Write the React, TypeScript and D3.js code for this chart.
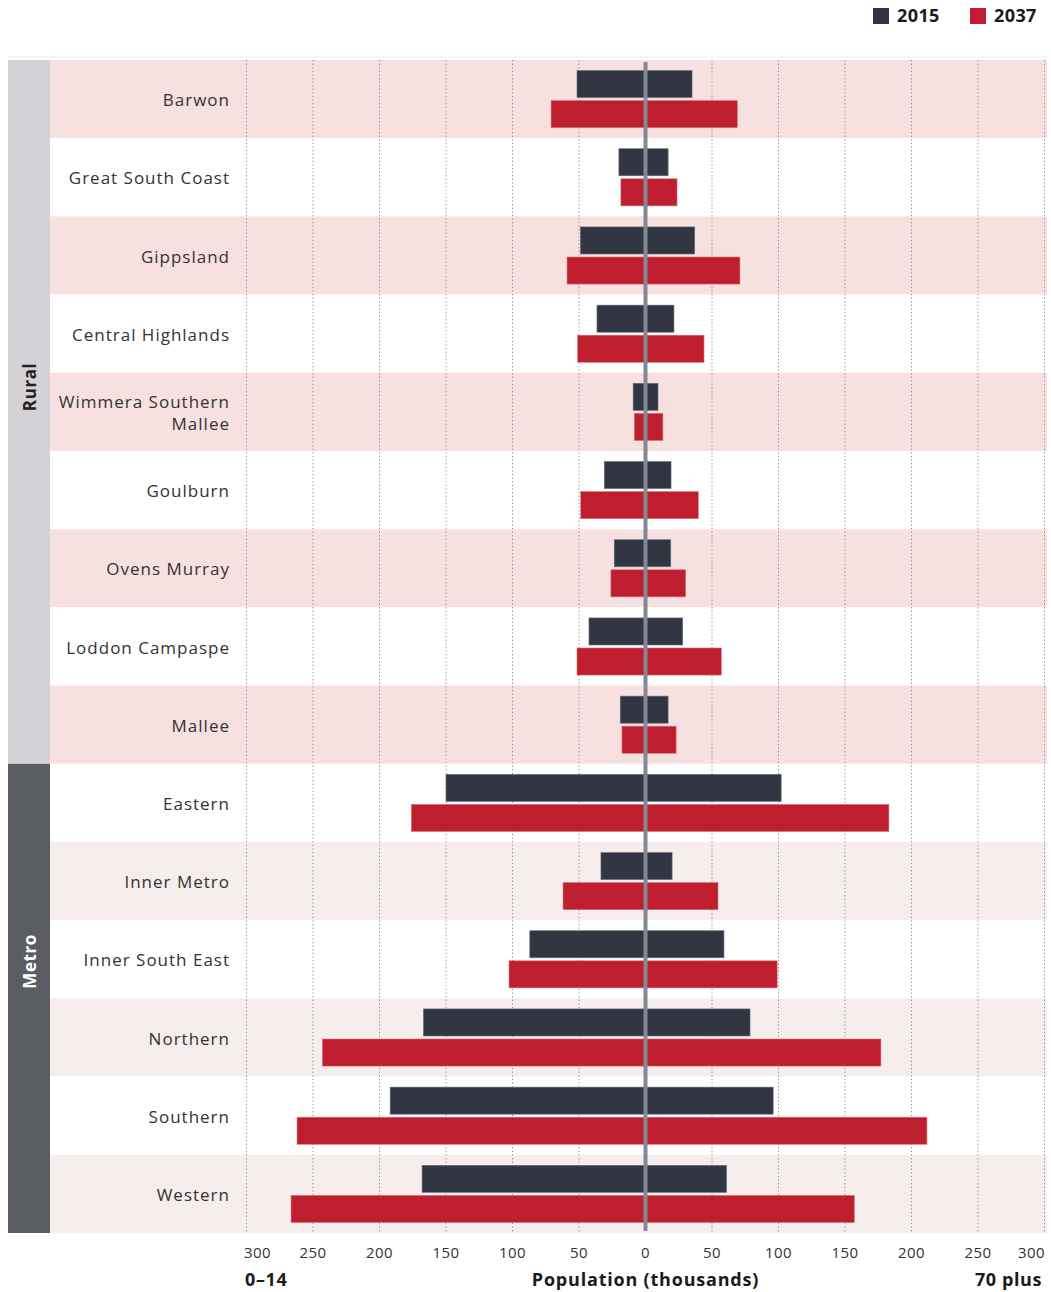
import * as d3 from "d3";

const regions = [
  "Barwon",
  "Great South Coast",
  "Gippsland",
  "Central Highlands",
  "Wimmera Southern Mallee",
  "Goulburn",
  "Ovens Murray",
  "Loddon Campaspe",
  "Mallee",
  "Eastern",
  "Inner Metro",
  "Inner South East",
  "Northern",
  "Southern",
  "Western",
];
const regionGroup = [
  "Rural", "Rural", "Rural", "Rural", "Rural", "Rural", "Rural", "Rural", "Rural",
  "Metro", "Metro", "Metro", "Metro", "Metro", "Metro",
];
const groups = ["Rural", "Metro"];
const years = ["2015", "2037"];

// 0–14 population (thousands)
const young2015 = [51.5, 20, 49, 36.5, 9.3, 31, 23.5, 42.5, 19, 150, 33.5, 87, 167, 192, 168];
const young2037 = [71, 18.5, 59, 51, 8.4, 48.7, 26, 51.5, 17.7, 176, 62, 102.6, 243, 262, 266.5];
// 70 plus population (thousands)
const old2015 = [35, 17, 37, 21.4, 9.4, 19.2, 19, 28, 17, 102, 20, 59, 78.6, 96, 61];
const old2037 = [69, 23.7, 71, 44, 13.1, 39.7, 30.2, 57, 23, 183, 54.5, 99, 177, 211.6, 157];

const ticks = [-300, -250, -200, -150, -100, -50, 0, 50, 100, 150, 200, 250, 300];

const W = 1051;
const H = 1292;
const font = "'Open Sans', 'Noto Sans', sans-serif";
const colors: Record<string, string> = { "2015": "#323642", "2037": "#be1e2d" };

export default function App() {
  const x = d3.scaleLinear().domain([-300, 300]).range([246.5, 1044.5]);
  const y = d3.scaleBand<string>().domain(regions).range([60, 1233]).padding(0);
  const inner = d3.scaleBand<string>().domain(years).range([0, y.bandwidth()])
    .paddingInner(0.1).paddingOuter(0.35);

  const values: Record<string, { young: number[]; old: number[] }> = {
    "2015": { young: young2015, old: old2015 },
    "2037": { young: young2037, old: old2037 },
  };

  const groupSpan = groups.map((g) => {
    const rows = regions.filter((_, i) => regionGroup[i] === g);
    const y0 = y(rows[0])!;
    const y1 = y(rows[rows.length - 1])! + y.bandwidth();
    return { g, y0, y1 };
  });

  return (
    <svg width={W} height={H} style={{ position: "absolute", left: 0, top: 0, background: "#fff" }}
      fontFamily={font}>
      {/* legend */}
      {years.map((yr, i) => (
        <g key={yr} transform={`translate(${873 + i * 97}, 8)`}>
          <rect width={16} height={16} fill={colors[yr]} />
          <text x={24} y={14} fontSize={18} fontWeight={700} fill="#1a1a1a" letterSpacing={0.4}>{yr}</text>
        </g>
      ))}
      <line x1={8} x2={1047} y1={57} y2={57} stroke="#ececec" />

      {/* row bands */}
      {regions.map((r, i) => (
        <rect key={r} x={50} y={y(r)} width={997} height={y.bandwidth()}
          fill={i % 2 === 0 ? (regionGroup[i] === "Rural" ? "#f6e1e0" : "#f6eded") : "#ffffff"} />
      ))}

      {/* group side bars */}
      {groupSpan.map(({ g, y0, y1 }) => (
        <g key={g}>
          <rect x={8} y={y0} width={42} height={y1 - y0} fill={g === "Rural" ? "#d4d2d6" : "#5a5d62"} />
          <text transform={`translate(29, ${(y0 + y1) / 2 - (g === "Rural" ? 25 : 37)}) rotate(-90)`}
            textAnchor="middle" dominantBaseline="central" fontSize={17} fontWeight={700} letterSpacing={0.6}
            fill={g === "Rural" ? "#222" : "#fff"}>{g}</text>
        </g>
      ))}

      {/* grid */}
      {ticks.filter((t) => t !== 0).map((t) => (
        <line key={t} x1={x(t)} x2={x(t)} y1={60} y2={1233} stroke="#8a8a8a" strokeWidth={1}
          strokeDasharray="1.2,2.4" />
      ))}

      {/* bars */}
      {regions.map((r, i) => (
        <g key={r} transform={`translate(0, ${y(r)})`}>
          {years.map((yr) => (
            <g key={yr}>
              <rect x={x(-values[yr].young[i])} y={inner(yr)} width={x(0) - x(-values[yr].young[i])}
                height={inner.bandwidth()} fill={colors[yr]}
                stroke={yr === "2015" ? "#6c707a" : "#d8707a"} strokeWidth={0.6} />
              <rect x={x(0)} y={inner(yr)} width={x(values[yr].old[i]) - x(0)}
                height={inner.bandwidth()} fill={colors[yr]}
                stroke={yr === "2015" ? "#6c707a" : "#d8707a"} strokeWidth={0.6} />
            </g>
          ))}
        </g>
      ))}

      {/* centre line */}
      <line x1={x(0)} x2={x(0)} y1={62} y2={1231} stroke="#828894" strokeWidth={4} />

      {/* row labels */}
      {regions.map((r) => {
        const cy = y(r)! + y.bandwidth() / 2;
        const lines = r === "Wimmera Southern Mallee" ? ["Wimmera Southern", "Mallee"] : [r];
        return (
          <text key={r} x={230} textAnchor="end" fontSize={17} fill="#333" letterSpacing={1}>
            {lines.map((l, j) => (
              <tspan key={l} x={230} y={cy + 7 + (j - (lines.length - 1) / 2) * 22}>{l}</tspan>
            ))}
          </text>
        );
      })}

      {/* tick labels */}
      {ticks.map((t) => (
        <text key={t} x={x(t) + (t === -300 ? 11 : t === 300 ? -13 : 0)} y={1258}
          textAnchor="middle" fontSize={15} fill="#333" letterSpacing={0.4}>{Math.abs(t)}</text>
      ))}

      {/* axis titles */}
      <text x={245} y={1286} fontSize={18} fontWeight={700} fill="#1a1a1a" letterSpacing={0.6}>0–14</text>
      <text x={x(0)} y={1286} textAnchor="middle" fontSize={18} fontWeight={700} fill="#1a1a1a"
        letterSpacing={0.8}>
        Population (thousands)
      </text>
      <text x={1042} y={1286} textAnchor="end" fontSize={18} fontWeight={700} fill="#1a1a1a"
        letterSpacing={0.6}>70 plus</text>
    </svg>
  );
}
